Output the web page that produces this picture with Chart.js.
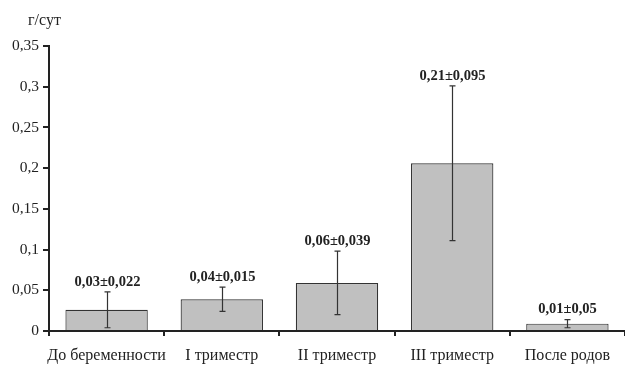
<!DOCTYPE html>
<html>
<head>
<meta charset="utf-8">
<script src="https://cdn.jsdelivr.net/npm/chart.js@4"></script>
<style>
  html, body { margin: 0; padding: 0; background: #fff; }
  #wrap { width: 625px; height: 365px; position: relative; }
</style>
</head>
<body>
<div id="wrap"><canvas id="c" width="625" height="365"></canvas></div>
<script>
// Суточная экскреция по периодам, г/сут
const categories = ["До беременности", "I триместр", "II триместр", "III триместр", "После родов"];
const means = [0.026, 0.039, 0.059, 0.206, 0.009];
const errors = [0.022, 0.015, 0.039, 0.095, 0.005];
const errorText = ["0,022", "0,015", "0,039", "0,095", "0,05"];
const yTicks = [0, 0.05, 0.1, 0.15, 0.2, 0.25, 0.3, 0.35];

const SERIF = "'Liberation Serif', 'DejaVu Serif', serif";
const fmt = v => String(+v.toFixed(2)).replace('.', ',');

const errorBars = {
  id: 'errorBars',
  afterDatasetsDraw(chart) {
    const { ctx } = chart;
    const y = chart.scales.y;
    const meta = chart.getDatasetMeta(0);
    ctx.save();
    ctx.strokeStyle = '#333';
    ctx.lineWidth = 1.2;
    meta.data.forEach((bar, i) => {
      const x = Math.round(bar.x) + 0.5;
      const top = y.getPixelForValue(means[i] + errors[i]);
      const bot = y.getPixelForValue(Math.max(0, means[i] - errors[i]));
      ctx.beginPath();
      ctx.moveTo(x, top); ctx.lineTo(x, bot);
      ctx.moveTo(x - 3, top); ctx.lineTo(x + 3, top);
      ctx.moveTo(x - 3, bot); ctx.lineTo(x + 3, bot);
      ctx.stroke();
      ctx.fillStyle = '#222';
      ctx.font = 'bold 14.5px ' + SERIF;
      ctx.textAlign = 'center';
      ctx.textBaseline = 'middle';
      ctx.fillText(fmt(means[i]) + '±' + errorText[i], x, top - 10);
    });
    ctx.fillStyle = '#222';
    ctx.font = '16px ' + SERIF;
    ctx.textAlign = 'left';
    ctx.textBaseline = 'middle';
    ctx.fillText('г/сут', 28, 21);
    ctx.restore();
  }
};

new Chart(document.getElementById('c'), {
  type: 'bar',
  data: {
    labels: categories,
    datasets: [{
      data: means,
      backgroundColor: '#c0c0c0',
      borderColor: '#333',
      borderWidth: 1.2,
      borderSkipped: 'bottom',
      categoryPercentage: 1,
      barPercentage: 0.715
    }]
  },
  options: {
    responsive: false,
    animation: false,
    devicePixelRatio: 1,
    layout: { padding: { top: 46, right: 0, left: 0, bottom: 0 } },
    plugins: { legend: { display: false }, tooltip: { enabled: false } },
    scales: {
      x: {
        grid: { display: true, drawOnChartArea: false, offset: true, tickLength: 5, color: '#222', lineWidth: 2 },
        border: { display: true, color: '#222', width: 2 },
        ticks: { color: '#222', font: { family: SERIF, size: 16 }, padding: 10, maxRotation: 0, autoSkip: false },
        afterFit(s) { s.height = 34; }
      },
      y: {
        min: 0, max: 0.35,
        afterBuildTicks(s) { s.ticks = yTicks.map(v => ({ value: v })); },
        grid: { display: true, drawOnChartArea: false, tickLength: 6, color: '#222', lineWidth: 2 },
        border: { display: true, color: '#222', width: 2 },
        ticks: { color: '#222', font: { family: SERIF, size: 15.5 }, padding: 4, callback: v => fmt(v) },
        afterFit(s) { s.width = 49; }
      }
    }
  },
  plugins: [errorBars]
});
</script>
</body>
</html>
